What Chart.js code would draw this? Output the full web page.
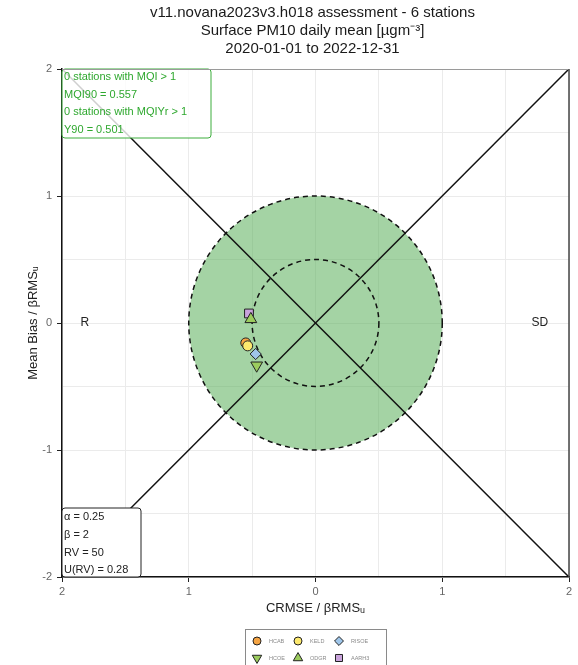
<!DOCTYPE html>
<html>
<head>
<meta charset="utf-8">
<script src="https://cdn.jsdelivr.net/npm/chart.js@4/dist/chart.umd.min.js"></script>
<style>
  html, body { margin: 0; padding: 0; background: #fff; }
  #wrap { width: 578px; height: 665px; }
</style>
</head>
<body>
<div id="wrap"><canvas id="target" width="578" height="665"></canvas></div>
<script>
// Stations and their normalised scores (x: CRMSE / βRMSu, signed: negative = R side; y: mean bias / βRMSu)
const stations = ['HCAB', 'KELD', 'RISOE', 'HCOE', 'ODGR', 'AARH3'];
const crmseNorm = [-0.55, -0.535, -0.472, -0.464, -0.51, -0.525];
const biasNorm  = [-0.157, -0.18, -0.244, -0.334, 0.03, 0.075];

// Axis ticks
const axisTicks = [-2, -1, 0, 1, 2];

// Reference lines (diagonals across the target diagram)
const diagonalA = [{ x: -2, y: 2 }, { x: 2, y: -2 }];
const diagonalB = [{ x: -2, y: -2 }, { x: 2, y: 2 }];

// Target circle radii
const targetRadius = 1;
const innerRadius = 0.5;

// Summary texts
const titleLines = [
  'v11.novana2023v3.h018 assessment - 6 stations',
  'Surface PM10 daily mean [µgm⁻³]',
  '2020-01-01 to 2022-12-31'
];
const mqiLines = ['0 stations with MQI > 1', 'MQI90 = 0.557', '0 stations with MQIYr > 1', 'Y90 = 0.501'];
const paramLines = ['α = 0.25', 'β = 2', 'RV = 50', 'U(RV) = 0.28'];

// Marker styling per station
const markerFill  = ['#f5a443', '#fde96e', '#9fc6ea', '#9ccc5e', '#9ccc5e', '#c9a3dc'];
const markerShape = ['circle', 'circle', 'rectRot', 'triangle', 'triangle', 'rect'];
const markerRot   = [0, 0, 0, 180, 0, 0];
const markerSize  = [5, 5, 5.6, 6.8, 6.8, 6.2];
// stacking: higher value is painted first (further back)
const markerStack = [5, 4, 3, 2, 1, 6];

const FONT = '"Liberation Sans", Arial, Helvetica, sans-serif';

const pointSets = stations.map((name, i) => ({
  label: name,
  data: [{ x: crmseNorm[i], y: biasNorm[i] }],
  pointStyle: markerShape[i],
  rotation: markerRot[i],
  pointRadius: markerSize[i],
  pointBackgroundColor: markerFill[i],
  pointBorderColor: '#222',
  pointBorderWidth: 1,
  order: markerStack[i]
}));

const lineSets = [diagonalA, diagonalB].map(d => ({
  type: 'line',
  data: d,
  borderColor: '#111',
  borderWidth: 1.5,
  pointRadius: 0,
  fill: false,
  order: 20
}));

function drawPointShape(ctx, style, x, y, r, rot, fill) {
  ctx.save();
  ctx.fillStyle = fill;
  ctx.strokeStyle = '#222';
  ctx.lineWidth = 1;
  if (Chart.helpers && Chart.helpers.drawPoint) {
    Chart.helpers.drawPoint(ctx, { pointStyle: style, rotation: rot, radius: r, borderWidth: 1 }, x, y);
  } else {
    ctx.beginPath();
    ctx.arc(x, y, r, 0, Math.PI * 2);
    ctx.fill();
    ctx.stroke();
  }
  ctx.restore();
}

function roundRect(ctx, x, y, w, h, r) {
  ctx.beginPath();
  ctx.moveTo(x + r, y);
  ctx.lineTo(x + w - r, y);
  ctx.quadraticCurveTo(x + w, y, x + w, y + r);
  ctx.lineTo(x + w, y + h - r);
  ctx.quadraticCurveTo(x + w, y + h, x + w - r, y + h);
  ctx.lineTo(x + r, y + h);
  ctx.quadraticCurveTo(x, y + h, x, y + h - r);
  ctx.lineTo(x, y + r);
  ctx.quadraticCurveTo(x, y, x + r, y);
  ctx.closePath();
}

const targetPlugin = {
  id: 'targetDiagram',
  beforeDatasetsDraw(chart) {
    const { ctx, scales: { x, y }, chartArea } = chart;
    const cx = x.getPixelForValue(0), cy = y.getPixelForValue(0);
    ctx.save();
    ctx.beginPath();
    ctx.rect(chartArea.left, chartArea.top, chartArea.width, chartArea.height);
    ctx.clip();
    // filled target circle
    const rx = x.getPixelForValue(targetRadius) - cx, ry = cy - y.getPixelForValue(targetRadius);
    ctx.beginPath();
    ctx.ellipse(cx, cy, rx, ry, 0, 0, Math.PI * 2);
    ctx.fillStyle = 'rgba(90,175,90,0.55)';
    ctx.fill();
    ctx.setLineDash([5, 4]);
    ctx.lineWidth = 1.5;
    ctx.strokeStyle = '#111';
    ctx.stroke();
    // inner dashed circle
    const ix = x.getPixelForValue(innerRadius) - cx, iy = cy - y.getPixelForValue(innerRadius);
    ctx.beginPath();
    ctx.ellipse(cx, cy, ix, iy, 0, 0, Math.PI * 2);
    ctx.stroke();
    ctx.restore();
  },
  afterDatasetsDraw(chart) {
    const { ctx, scales: { x, y }, chartArea } = chart;
    const cy = y.getPixelForValue(0);
    ctx.save();
    // R / SD side labels
    ctx.font = '12px ' + FONT;
    ctx.fillStyle = '#222';
    ctx.textBaseline = 'middle';
    ctx.textAlign = 'center';
    ctx.fillText('R', x.getPixelForValue(-1.82), cy);
    ctx.fillText('SD', x.getPixelForValue(1.77), cy);

    // MQI summary box
    const L = chartArea.left, T = chartArea.top;
    roundRect(ctx, L, T, 149, 69, 3);
    ctx.fillStyle = 'rgba(255,255,255,0.8)';
    ctx.fill();
    ctx.strokeStyle = '#3cad3c';
    ctx.lineWidth = 1;
    ctx.stroke();
    ctx.font = '11px ' + FONT;
    ctx.fillStyle = '#2fa82f';
    ctx.textAlign = 'left';
    mqiLines.forEach((s, i) => ctx.fillText(s, L + 2, T + 8 + i * 17.7));

    // parameter box
    const B = chartArea.bottom;
    roundRect(ctx, L, B - 69, 79, 69, 3);
    ctx.fillStyle = '#fff';
    ctx.fill();
    ctx.strokeStyle = '#222';
    ctx.stroke();
    ctx.fillStyle = '#222';
    paramLines.forEach((s, i) => ctx.fillText(s, L + 2, B - 60 + i * 17.8));
    ctx.restore();
  },
  afterDraw(chart) {
    const { ctx, chartArea } = chart;
    ctx.save();
    // top and right frame lines
    ctx.lineWidth = 1;
    ctx.strokeStyle = '#9a9a9a';
    ctx.beginPath();
    ctx.moveTo(chartArea.left, chartArea.top + 0.5);
    ctx.lineTo(chartArea.right, chartArea.top + 0.5);
    ctx.stroke();
    ctx.strokeStyle = '#444';
    ctx.lineWidth = 1.5;
    ctx.beginPath();
    ctx.moveTo(chartArea.right, chartArea.top);
    ctx.lineTo(chartArea.right, chartArea.bottom);
    ctx.stroke();

    // title
    ctx.font = '15px ' + FONT;
    ctx.fillStyle = '#1a1a1a';
    ctx.textAlign = 'center';
    ctx.textBaseline = 'middle';
    const tx = (chartArea.left + chartArea.right) / 2 - 3;
    titleLines.forEach((s, i) => ctx.fillText(s, tx, 13 + i * 17.8));

    // legend
    const lx = 245, ly = 629;
    ctx.strokeStyle = '#8a8a8a';
    ctx.lineWidth = 1;
    ctx.strokeRect(lx + 0.5, ly + 0.5, 141, 44);
    ctx.font = '5.5px ' + FONT;
    ctx.fillStyle = '#8a8a8a';
    ctx.textAlign = 'left';
    stations.forEach((name, i) => {
      const col = i % 3, row = Math.floor(i / 3);
      const mx = 257 + col * 41, my = 641 + row * 17;
      drawPointShape(ctx, markerShape[i], mx, my, markerSize[i] * 0.8, markerRot[i], markerFill[i]);
      ctx.fillText(name, mx + 12, my);
    });
    ctx.restore();
  }
};

new Chart(document.getElementById('target'), {
  type: 'scatter',
  data: { datasets: [...pointSets, ...lineSets] },
  options: {
    responsive: false,
    animation: false,
    layout: { padding: { top: 69, left: 0, right: 9, bottom: 45 } },
    plugins: { legend: { display: false }, tooltip: { enabled: false }, title: { display: false } },
    scales: {
      x: {
        type: 'linear', min: -2, max: 2,
        afterFit(s) { s.height = 43; },
        afterBuildTicks(s) {
          const t = [];
          for (let v = -4; v <= 4; v++) t.push({ value: v / 2 });
          s.ticks = t;
        },
        ticks: {
          autoSkip: false, maxRotation: 0, padding: 3,
          color: '#666', font: { size: 11, family: FONT },
          callback: v => axisTicks.includes(v) ? String(Math.abs(v)) : ''
        },
        grid: {
          color: '#ebebeb', lineWidth: 1, tickLength: 5,
          tickColor: c => (c.tick && axisTicks.includes(c.tick.value)) ? '#222' : 'rgba(0,0,0,0)'
        },
        border: { color: '#111', width: 1.5 },
        title: { display: true, text: 'CRMSE / βRMSᵤ', color: '#222', font: { size: 13, family: FONT }, padding: { top: 4, bottom: 4 } }
      },
      y: {
        type: 'linear', min: -2, max: 2,
        afterFit(s) { s.width = 62; },
        afterBuildTicks(s) {
          const t = [];
          for (let v = -4; v <= 4; v++) t.push({ value: v / 2 });
          s.ticks = t;
        },
        ticks: {
          autoSkip: false, padding: 5,
          color: '#666', font: { size: 11, family: FONT },
          callback: v => axisTicks.includes(v) ? String(v) : ''
        },
        grid: {
          color: '#ebebeb', lineWidth: 1, tickLength: 5,
          tickColor: c => (c.tick && axisTicks.includes(c.tick.value)) ? '#222' : 'rgba(0,0,0,0)'
        },
        border: { color: '#111', width: 1.5 },
        title: { display: true, text: 'Mean Bias / βRMSᵤ', color: '#222', font: { size: 13, family: FONT }, padding: { top: 26, bottom: 4 } }
      }
    }
  },
  plugins: [targetPlugin]
});
</script>
</body>
</html>
